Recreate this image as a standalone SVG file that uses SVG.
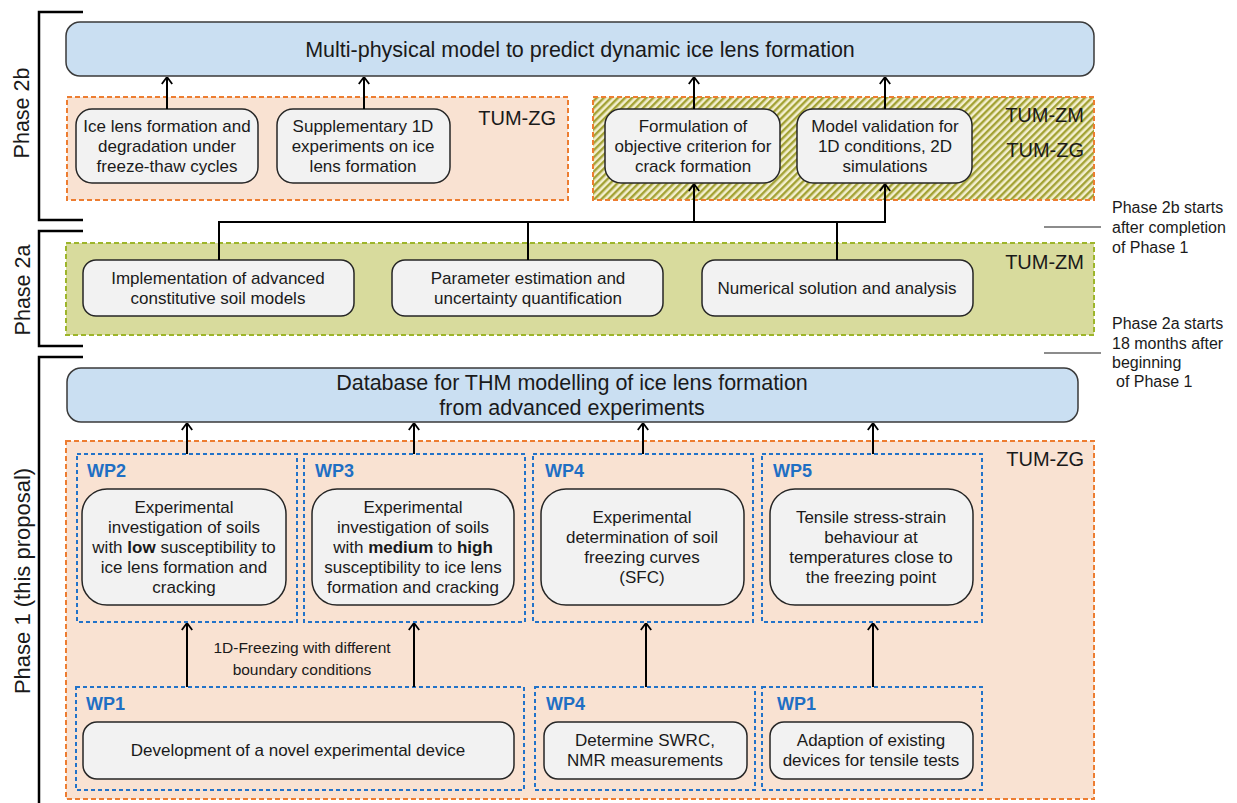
<svg xmlns="http://www.w3.org/2000/svg" width="1237" height="803" viewBox="0 0 1237 803">
<style>
text{font-family:"Liberation Sans",Arial,sans-serif;fill:#1a1a1a}
.t{font-size:17px;text-anchor:middle}
.big{font-size:21.5px;text-anchor:middle}
.org{font-size:20px;text-anchor:end}
.ph{font-size:21.5px;text-anchor:middle}
.note{font-size:16px}
.wp{font-size:18px;font-weight:bold;fill:#1F6FC4}
.node{fill:#F2F2F2;stroke:#262626;stroke-width:1.5}
.blue{fill:#CADFF2;stroke:#3a3a3a;stroke-width:1.5}
.peach{fill:#F9E2D2;stroke:#ED7D31;stroke-width:2;stroke-dasharray:5 3}
.hatch{fill:url(#hp);stroke:#ED7D31;stroke-width:2;stroke-dasharray:5 3}
.green{fill:#D8DB9D;stroke:#9DB52B;stroke-width:2;stroke-dasharray:5 3}
.wpb{fill:none;stroke:#2273C9;stroke-width:2;stroke-dasharray:4 3}
.br{fill:none;stroke:#000;stroke-width:2.5}
.ln{fill:none;stroke:#000;stroke-width:2}
.ar{fill:none;stroke:#000;stroke-width:2;marker-end:url(#arr)}
.gl{stroke:#8C8C8C;stroke-width:2}
</style>
<defs>
<pattern id="hp" width="5" height="5" patternUnits="userSpaceOnUse" patternTransform="rotate(45)">
<rect width="5" height="5" fill="#F3EFCF"/>
<rect width="2.4" height="5" fill="#A3A235"/>
</pattern>
<marker id="arr" viewBox="0 0 8 12" refX="7.5" refY="6" markerWidth="8" markerHeight="12" markerUnits="userSpaceOnUse" orient="auto">
<path d="M0.5,0.8 L7.5,6 L0.5,11.2" fill="none" stroke="#000" stroke-width="1.8"/>
</marker>
</defs>

<g id="brackets">
<path class="br" d="M83,12 H39 V220 H83"/>
<path class="br" d="M83,231 H39 V346 H83"/>
<path class="br" d="M83,357 H39 V805"/>
<text class="ph" transform="translate(29,113) rotate(-90)">Phase 2b</text>
<text class="ph" transform="translate(30,290) rotate(-90)">Phase 2a</text>
<text class="ph" style="font-size:22px" transform="translate(30,581) rotate(-90)">Phase 1 (this proposal)</text>
</g>

<g id="notes">
<line class="gl" x1="1044" y1="227" x2="1101" y2="227"/>
<text class="note" x="1112" y="213">Phase 2b starts</text>
<text class="note" x="1112" y="233">after completion</text>
<text class="note" x="1112" y="253">of Phase 1</text>
<line class="gl" x1="1044" y1="353" x2="1101" y2="353"/>
<text class="note" x="1112" y="329">Phase 2a starts</text>
<text class="note" x="1112" y="349">18 months after</text>
<text class="note" x="1112" y="368">beginning</text>
<text class="note" x="1116" y="387">of Phase 1</text>
</g>

<g id="model">
<rect class="blue" x="66" y="22" width="1028" height="54" rx="14"/>
<text class="big" x="580" y="57">Multi-physical model to predict dynamic ice lens formation</text>
</g>

<g id="zg2b">
<rect class="peach" x="67" y="97" width="501" height="103"/>
<text class="org" x="556" y="125">TUM-ZG</text>
</g>
<g id="hatched2b">
<rect class="hatch" x="593" y="97" width="501" height="103"/>
<text class="org" x="1084" y="122">TUM-ZM</text>
<text class="org" x="1084" y="157">TUM-ZG</text>
</g>

<g id="n-icelens">
<rect class="node" x="76" y="109" width="182" height="74" rx="16"/>
<text class="t" x="167" y="132">Ice lens formation and</text>
<text class="t" x="167" y="152">degradation under</text>
<text class="t" x="167" y="172">freeze-thaw cycles</text>
</g>
<g id="n-supp">
<rect class="node" x="277" y="109" width="173" height="74" rx="16"/>
<text class="t" x="363" y="132">Supplementary  1D</text>
<text class="t" x="363" y="152">experiments on ice</text>
<text class="t" x="363" y="172">lens formation</text>
</g>
<g id="n-crit">
<rect class="node" x="605" y="109" width="175" height="74" rx="16"/>
<text class="t" x="693" y="132">Formulation  of</text>
<text class="t" x="693" y="152">objective criterion for</text>
<text class="t" x="693" y="172">crack formation</text>
</g>
<g id="n-valid">
<rect class="node" x="797" y="109" width="175" height="74" rx="16"/>
<text class="t" x="885" y="132">Model validation for</text>
<text class="t" x="885" y="152">1D conditions, 2D</text>
<text class="t" x="885" y="172">simulations</text>
</g>

<g id="zm2a">
<rect class="green" x="66" y="243" width="1028" height="92"/>
<text class="org" x="1084" y="269">TUM-ZM</text>
</g>
<g id="n-impl">
<rect class="node" x="83" y="260" width="271" height="56" rx="13"/>
<text class="t" x="218" y="284">Implementation  of advanced</text>
<text class="t" x="218" y="304">constitutive soil models</text>
</g>
<g id="n-param">
<rect class="node" x="392" y="260" width="271" height="56" rx="13"/>
<text class="t" x="528" y="284">Parameter estimation and</text>
<text class="t" x="528" y="304">uncertainty quantification</text>
</g>
<g id="n-num">
<rect class="node" x="702" y="260" width="271" height="56" rx="13"/>
<text class="t" x="837" y="294">Numerical solution and analysis</text>
</g>

<g id="database">
<rect class="blue" x="67" y="368" width="1011" height="54" rx="14"/>
<text class="big" x="572" y="390">Database for THM modelling of ice lens formation</text>
<text class="big" x="572" y="415">from advanced experiments</text>
</g>

<g id="zg1">
<rect class="peach" x="66" y="441" width="1028" height="358"/>
<text class="org" x="1084" y="466">TUM-ZG</text>
</g>

<g id="wp2">
<rect class="wpb" x="77" y="454" width="220" height="168"/>
<text class="wp" x="87" y="477">WP2</text>
<rect class="node" x="82" y="489" width="204" height="116" rx="25"/>
<text class="t" x="184" y="513">Experimental</text>
<text class="t" x="184" y="533">investigation  of soils</text>
<text class="t" x="184" y="553">with <tspan font-weight="bold">low</tspan> susceptibility  to</text>
<text class="t" x="184" y="573">ice lens formation and</text>
<text class="t" x="184" y="593">cracking</text>
</g>
<g id="wp3">
<rect class="wpb" x="304" y="454" width="221" height="168"/>
<text class="wp" x="315" y="477">WP3</text>
<rect class="node" x="312" y="489" width="202" height="116" rx="25"/>
<text class="t" x="413" y="513">Experimental</text>
<text class="t" x="413" y="533">investigation  of soils</text>
<text class="t" x="413" y="553">with <tspan font-weight="bold">medium</tspan> to <tspan font-weight="bold">high</tspan></text>
<text class="t" x="413" y="573">susceptibility  to ice lens</text>
<text class="t" x="413" y="593">formation and cracking</text>
</g>
<g id="wp4">
<rect class="wpb" x="533" y="454" width="220" height="168"/>
<text class="wp" x="545" y="477">WP4</text>
<rect class="node" x="541" y="489" width="203" height="116" rx="25"/>
<text class="t" x="642" y="523">Experimental</text>
<text class="t" x="642" y="543">determination  of soil</text>
<text class="t" x="642" y="563">freezing curves</text>
<text class="t" x="642" y="583">(SFC)</text>
</g>
<g id="wp5">
<rect class="wpb" x="762" y="454" width="220" height="168"/>
<text class="wp" x="773" y="477">WP5</text>
<rect class="node" x="770" y="489" width="203" height="116" rx="25"/>
<text class="t" x="871" y="523">Tensile stress-strain</text>
<text class="t" x="871" y="543">behaviour at</text>
<text class="t" x="871" y="563">temperatures close to</text>
<text class="t" x="871" y="583">the freezing point</text>
</g>

<g id="wp1a">
<rect class="wpb" x="76" y="687" width="448" height="103"/>
<text class="wp" x="86" y="710">WP1</text>
<rect class="node" x="83" y="722" width="431" height="57" rx="14"/>
<text class="t" x="298" y="756">Development of a novel experimental device</text>
</g>
<g id="wp4b">
<rect class="wpb" x="535" y="687" width="220" height="103"/>
<text class="wp" x="546" y="710">WP4</text>
<rect class="node" x="544" y="722" width="203" height="57" rx="14"/>
<text class="t" x="645" y="746">Determine SWRC,</text>
<text class="t" x="645" y="766">NMR measurements</text>
</g>
<g id="wp1b">
<rect class="wpb" x="762" y="687" width="220" height="103"/>
<text class="wp" x="777" y="710">WP1</text>
<rect class="node" x="770" y="722" width="203" height="57" rx="14"/>
<text class="t" x="871" y="746">Adaption  of existing</text>
<text class="t" x="871" y="766">devices for tensile tests</text>
</g>

<g id="label-freezing">
<text class="t" x="302" y="653" style="font-size:15.5px">1D-Freezing  with different</text>
<text class="t" x="302" y="675" style="font-size:15.5px">boundary  conditions</text>
</g>

<g id="connectors">
<line class="ar" x1="167" y1="109" x2="167" y2="77"/>
<line class="ar" x1="364" y1="109" x2="364" y2="77"/>
<line class="ar" x1="694" y1="109" x2="694" y2="77"/>
<line class="ar" x1="885" y1="109" x2="885" y2="77"/>
<path class="ln" d="M219,260 V222 H885"/>
<line class="ln" x1="528" y1="222" x2="528" y2="260"/>
<line class="ln" x1="837" y1="222" x2="837" y2="260"/>
<line class="ar" x1="694" y1="222" x2="694" y2="184"/>
<line class="ar" x1="885" y1="223" x2="885" y2="184"/>
<line class="ar" x1="187" y1="454" x2="187" y2="423"/>
<line class="ar" x1="414" y1="454" x2="414" y2="423"/>
<line class="ar" x1="643" y1="454" x2="643" y2="423"/>
<line class="ar" x1="873" y1="454" x2="873" y2="423"/>
<line class="ar" x1="187" y1="687" x2="187" y2="623"/>
<line class="ar" x1="414" y1="687" x2="414" y2="623"/>
<line class="ar" x1="646" y1="687" x2="646" y2="623"/>
<line class="ar" x1="873" y1="687" x2="873" y2="623"/>
</g>
</svg>
